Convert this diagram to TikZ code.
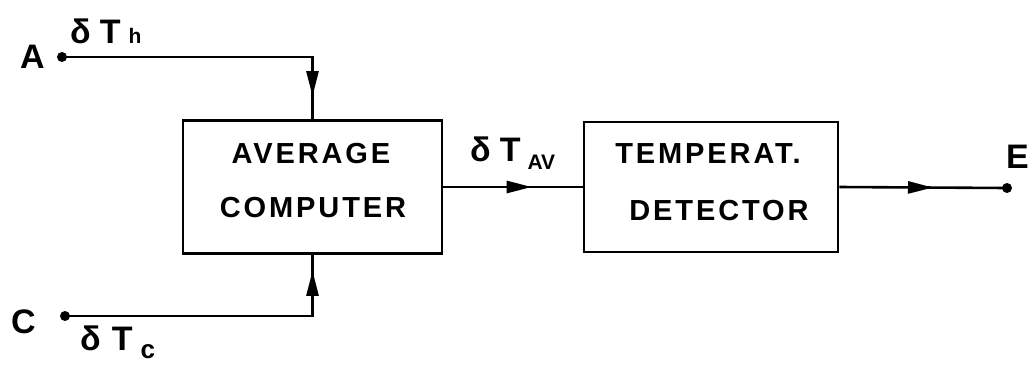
\documentclass[tikz,border=0pt]{standalone}
\usepackage{fontspec}
\setmainfont{Liberation Sans}
\newfontfamily\stencil{Liberation Sans}[LetterSpace=10]
\newfontfamily\stencilb{Liberation Sans}[LetterSpace=0]
\usetikzlibrary{arrows.meta,decorations.markings}
\tikzset{
  wire/.style={line width=2.6pt},
  blockbox/.style={draw,line width=2.6pt,inner sep=0pt,minimum width=#1},
  blocktext/.style={anchor=base,inner sep=0pt,font=\stencil\bfseries\fontsize{29}{29}\selectfont},
  termlabel/.style={anchor=base west,inner sep=0pt,font=\stencilb\bfseries\fontsize{34}{34}\selectfont},
  siglabel/.style={anchor=base west,inner sep=0pt,font=\stencilb\bfseries\fontsize{34}{34}\selectfont},
  dot/.style={circle,fill,inner sep=0pt,minimum size=10pt},
  arrowat/.style={postaction={decorate},decoration={markings,
     mark=at position #1 with {\arrow{Triangle[length=25pt,width=12pt]}}}}
}
\newcommand{\sub}[3]{\raisebox{#1}{\fontsize{#2}{#2}\selectfont #3}}
\begin{document}
\begin{tikzpicture}[x=1pt,y=-1pt]
\useasboundingbox (0,0) rectangle (1028,365);
% blocks
\node[blockbox=259pt,minimum height=133pt] (b1) at (312.5,187) {};
\node[blockbox=254pt,minimum height=130pt] (b2) at (711,187) {};
\node[blocktext] (t1) at (311,163) {AVERAGE};
\node[blocktext] (t2) at (313,217) {COMPUTER};
\node[blocktext] (t3) at (708,163) {TEMPERAT.};
\node[blocktext] (t4) at (719,220) {DETECTOR};
% terminals
\node[dot] (dA) at (62,57) {};
\node[dot] (dC) at (65,316) {};
\node[dot] (dE) at (1007,188) {};
\node[termlabel] (lA) at (20,68) {A};
\node[termlabel] (lC) at (11,333) {C};
\node[termlabel] (lE) at (1006,168) {E};
% signal labels
\node[siglabel] (sh) at (70,43) {δ\hspace{9pt}T\hspace{8pt}\sub{0pt}{21}{h}};
\node[siglabel] (sav) at (470,161) {δ\hspace{9pt}T\hspace{7pt}\sub{-8pt}{21}{AV}};
\node[siglabel] (sc) at (80,350) {δ\hspace{11pt}T\hspace{8pt}\sub{-8pt}{26}{c}};
% connectors
\draw[wire,arrowat=-23pt] (dA.center) -| (b1.north);
\draw[wire,arrowat=-16pt] (dC.center) -| (b1.south);
\draw[wire,arrowat=-51pt] (b1.east) -- (b2.west);
\draw[wire,arrowat=-74pt] (b2.east) -- (dE.center);
\end{tikzpicture}
\end{document}
